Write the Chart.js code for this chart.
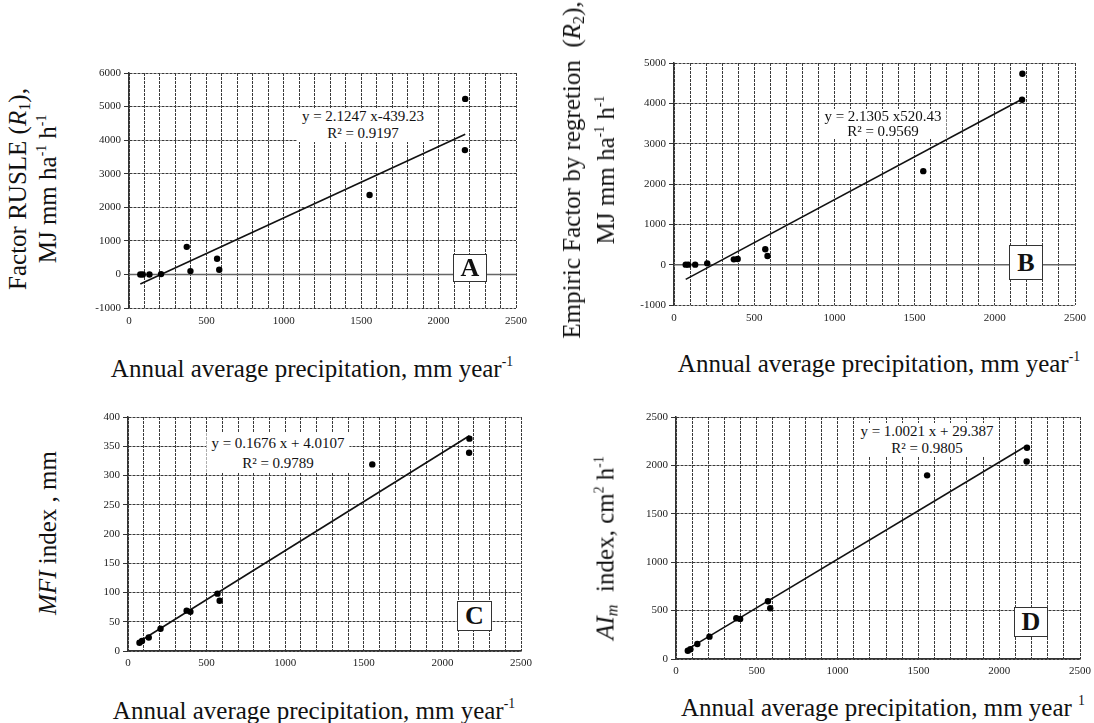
<!DOCTYPE html>
<html><head><meta charset="utf-8">
<script src="https://cdn.jsdelivr.net/npm/chart.js@4.4.0/dist/chart.umd.min.js"></script>
<style>
body{margin:0;background:#fff;width:1094px;height:723px;position:relative;overflow:hidden;font-family:'Liberation Serif','Times New Roman',serif;color:#111;}
canvas{position:absolute;}
.t{position:absolute;white-space:nowrap;font-size:25px;line-height:1;}
.rot{transform:translate(-50%,-50%) rotate(-90deg);text-align:center;}
.hc{transform:translate(-50%,-50%);}
.eq{position:absolute;background:#fff;font-size:15px;text-align:center;padding:0 5px;transform:translate(-50%,0);white-space:nowrap;}
.lt{position:absolute;box-sizing:border-box;border:1px solid #333;background:#fff;font-weight:bold;font-size:26px;display:flex;align-items:center;justify-content:center;line-height:1;}
sup{font-size:55%;vertical-align:0.75em;line-height:0;}
sub{font-size:65%;vertical-align:-0.25em;line-height:0;}
</style>
</head>
<body>
<script>
// ---- data ----
const precipitation = [73, 89, 132, 207, 373, 397, 569, 583, 1554, 2172, 2170];
const rusleR1   = [0, 0, 0, 10, 822, 99, 465, 139, 2366, 5228, 3703];
const empiricR2 = [0, 0, 0, 33, 132, 141, 381, 215, 2318, 4735, 4089];
const mfiIndex  = [14, 17, 23, 38, 69, 67, 98, 86, 319, 363, 339];
const aimIndex  = [86, 100, 155, 231, 421, 414, 597, 524, 1897, 2183, 2041];

// regression lines (as printed on the chart)
const slopes     = [2.1247, 2.1305, 0.1676, 1.0021];
const intercepts = [-439.23, -520.43, 4.0107, 29.387];

// tick labels
const xTickLabels = [0, 500, 1000, 1500, 2000, 2500];
const xGridStep = 100;
const yTicksA = [-1000, 0, 1000, 2000, 3000, 4000, 5000, 6000];
const yTicksB = [-1000, 0, 1000, 2000, 3000, 4000, 5000];
const yTicksC = [0, 50, 100, 150, 200, 250, 300, 350, 400];
const yTicksD = [0, 500, 1000, 1500, 2000, 2500];

const panels = [
  {y: rusleR1,   k: 0, ticks: yTicksA, zero: true,  xBorder: false, xPad: 7, area: {l:129, t:73,  r:516,  b:308}},
  {y: empiricR2, k: 1, ticks: yTicksB, zero: true,  xBorder: false, xPad: 7, area: {l:674, t:63,  r:1075, b:305}},
  {y: mfiIndex,  k: 2, ticks: yTicksC, zero: false, xBorder: true,  xPad: 6, area: {l:128, t:417, r:521,  b:651}},
  {y: aimIndex,  k: 3, ticks: yTicksD, zero: false, xBorder: true,  xPad: 6, area: {l:676, t:417, r:1080, b:659}}
];

const zeroLine = {
  id: 'zeroLine',
  beforeDatasetsDraw(chart, args, opts) {
    if (!opts.show) return;
    const ctx = chart.ctx, y = chart.scales.y.getPixelForValue(0);
    const {left, right} = chart.chartArea;
    ctx.save(); ctx.strokeStyle = '#666'; ctx.lineWidth = 1.5;
    ctx.beginPath(); ctx.moveTo(left, y); ctx.lineTo(right, y); ctx.stroke(); ctx.restore();
  }
};

const tickFont = {family: "'Liberation Serif', serif", size: 11};

panels.forEach(p => {
  const a = p.area, padL = 55, padT = 12, padR = 22, padB = 30;
  const w = a.r - a.l + padL + padR, h = a.b - a.t + padT + padB;
  const cv = document.createElement('canvas');
  cv.width = w; cv.height = h;
  cv.style.left = (a.l - padL) + 'px'; cv.style.top = (a.t - padT) + 'px';
  cv.style.width = w + 'px'; cv.style.height = h + 'px';
  document.body.appendChild(cv);

  const pts = precipitation.map((x, i) => ({x, y: p.y[i]}));
  const xmin = Math.min(...precipitation), xmax = Math.max(...precipitation);
  const m = slopes[p.k], c = intercepts[p.k];
  const trend = [{x: xmin, y: m * xmin + c}, {x: xmax, y: m * xmax + c}];
  const xGrid = [];
  for (let v = xTickLabels[0]; v <= xTickLabels[xTickLabels.length - 1]; v += xGridStep) xGrid.push(v);

  new Chart(cv, {
    type: 'scatter',
    data: {datasets: [
      {data: pts, pointRadius: 3.2, pointBackgroundColor: '#000', pointBorderWidth: 0, showLine: false},
      {data: trend, showLine: true, borderColor: '#111', borderWidth: 1.6, pointRadius: 0, fill: false}
    ]},
    options: {
      responsive: false, animation: false, events: [],
      layout: {padding: {left: 0, top: padT, right: padR, bottom: 0}},
      plugins: {legend: {display: false}, tooltip: {enabled: false}, zeroLine: {show: p.zero}},
      scales: {
        x: {
          type: 'linear', min: xTickLabels[0], max: xTickLabels[xTickLabels.length - 1],
          afterFit: s => { s.height = padB; },
          afterBuildTicks: s => { s.ticks = xGrid.map(v => ({value: v})); },
          ticks: {autoSkip: false, maxRotation: 0, padding: p.xPad, font: tickFont, color: '#222',
                  callback: v => xTickLabels.includes(v) ? String(v) : ''},
          grid: {color: '#3a3a3a', lineWidth: 1, drawTicks: false},
          border: {display: p.xBorder, color: '#333', width: 1.5, dash: [3, 1]}
        },
        y: {
          type: 'linear', min: p.ticks[0], max: p.ticks[p.ticks.length - 1],
          afterFit: s => { s.width = padL; },
          afterBuildTicks: s => { s.ticks = p.ticks.map(v => ({value: v})); },
          ticks: {padding: 3, font: tickFont, color: '#222', callback: v => String(v)},
          grid: {color: '#3a3a3a', lineWidth: 1, drawTicks: true, tickLength: 5, tickColor: '#333'},
          border: {display: true, color: '#333', width: 1.5, dash: [3, 1]}
        }
      }
    },
    plugins: [zeroLine]
  });
});
</script>

<!-- axis titles -->
<div class="t rot" style="left:33px;top:189px;line-height:30px;">Factor RUSLE (<i>R</i><sub>1</sub>),<br>MJ mm ha<sup>-1</sup> h<sup>-1</sup></div>
<div class="t rot" style="left:589px;top:170px;line-height:34px;">Empiric Factor by regretion&nbsp; (<i>R</i><sub>2</sub>),<br>MJ mm ha<sup>-1</sup> h<sup>-1</sup></div>
<div class="t rot" style="left:47px;top:533px;"><i>MFI</i> index , mm</div>
<div class="t rot" style="left:605px;top:548px;"><i>AI<sub>m</sub></i>&nbsp; index, cm<sup>2</sup> h<sup>-1</sup></div>

<div class="t hc" style="left:312px;top:368px;">Annual average precipitation, mm year<sup>-1</sup></div>
<div class="t hc" style="left:879px;top:363px;">Annual average precipitation, mm year<sup>-1</sup></div>
<div class="t hc" style="left:314px;top:710px;">Annual average precipitation, mm year<sup>-1</sup></div>
<div class="t hc" style="left:883px;top:707px;">Annual average precipitation, mm year <sup>1</sup></div>

<!-- regression equations -->
<div class="eq" style="left:363px;top:108px;line-height:17px;">y = 2.1247 x-439.23<br>R² = 0.9197</div>
<div class="eq" style="left:883px;top:109px;line-height:15px;">y = 2.1305 x520.43<br>R² = 0.9569</div>
<div class="eq" style="left:278px;top:433px;line-height:20px;">y = 0.1676 x + 4.0107<br>R² = 0.9789</div>
<div class="eq" style="left:927px;top:423px;line-height:17px;">y = 1.0021 x + 29.387<br>R² = 0.9805</div>

<!-- panel letters -->
<div class="lt" style="left:453px;top:254px;width:34px;height:28px;">A</div>
<div class="lt" style="left:1009px;top:245px;width:34px;height:35px;">B</div>
<div class="lt" style="left:457px;top:601px;width:35px;height:30px;">C</div>
<div class="lt" style="left:1014px;top:607px;width:34px;height:30px;">D</div>
</body></html>
